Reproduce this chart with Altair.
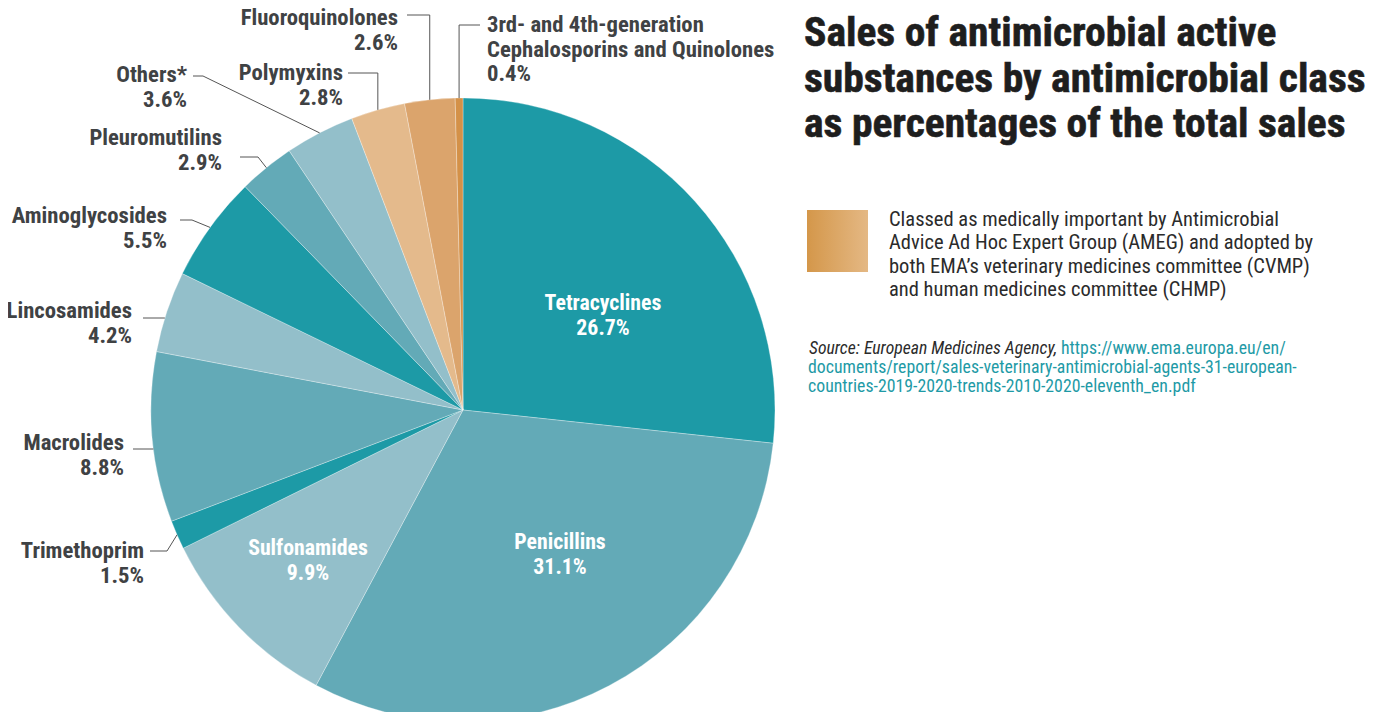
import altair as alt
import pandas as pd
import math

# ---------------- data ----------------
classes = ["Tetracyclines", "Penicillins", "Sulfonamides", "Trimethoprim", "Macrolides",
           "Lincosamides", "Aminoglycosides", "Pleuromutilins", "Others*", "Polymyxins",
           "Fluoroquinolones", "3rd- and 4th-generation Cephalosporins and Quinolones"]
shares = [26.7, 31.1, 9.9, 1.5, 8.8, 4.2, 5.5, 2.9, 3.6, 2.8, 2.6, 0.4]
pct_labels = ["26.7%", "31.1%", "9.9%", "1.5%", "8.8%", "4.2%", "5.5%", "2.9%", "3.6%", "2.8%", "2.6%", "0.4%"]
label_lines = [["Tetracyclines"], ["Penicillins"], ["Sulfonamides"], ["Trimethoprim"], ["Macrolides"],
               ["Lincosamides"], ["Aminoglycosides"], ["Pleuromutilins"], ["Others*"], ["Polymyxins"],
               ["Fluoroquinolones"], ["3rd- and 4th-generation", "Cephalosporins and Quinolones"]]
slice_colors = ["#1D9AA6", "#63AAB7", "#93BFCA", "#1D9AA6", "#63AAB7", "#93BFCA",
                "#1D9AA6", "#63AAB7", "#93BFCA", "#E4BA8C", "#DBA46C", "#D49148"]

title_lines = ["Sales of antimicrobial active", "substances by antimicrobial class",
               "as percentages of the total sales"]
legend_lines = ["Classed as medically important by Antimicrobial",
                "Advice Ad Hoc Expert Group (AMEG) and adopted by",
                "both EMA\u2019s veterinary medicines committee (CVMP)",
                "and human medicines committee (CHMP)"]
source_prefix = "Source: European Medicines Agency,"
source_link = ["https://www.ema.europa.eu/en/",
               "documents/report/sales-veterinary-antimicrobial-agents-31-european-",
               "countries-2019-2020-trends-2010-2020-eleventh_en.pdf"]

# ---------------- layout ----------------
W, H = 1378, 704
OFF = 8
CX, CY, R = 463 - OFF, 410 - OFF, 312
FONT = "Liberation Sans Narrow, Roboto Condensed, Arial Narrow, Roboto, sans-serif"

# label layout: align, x, first baseline (page coords), inside?, leader kind, leader start x, leader y, elbow x
label_layout = {
    "Tetracyclines":    ("center", 603, 310, True,  None, None, None, None),
    "Penicillins":      ("center", 560, 549, True,  None, None, None, None),
    "Sulfonamides":     ("center", 308, 555, True,  None, None, None, None),
    "Trimethoprim":     ("right", 144, 558, False, "d", 150, 551, 167),
    "Macrolides":       ("right", 124, 450, False, "h", 133, 449, None),
    "Lincosamides":     ("right", 132, 318, False, "h", 143, 318, None),
    "Aminoglycosides":  ("right", 167, 223, False, "d", 180, 220, 192),
    "Pleuromutilins":   ("right", 222, 145, False, "d", 240, 157, 258),
    "Others*":          ("right", 187, 82,  False, "d", 193, 76, 203),
    "Polymyxins":       ("right", 343, 80,  False, "v", 348, 73, None),
    "Fluoroquinolones": ("right", 398, 25,  False, "v", 407, 15, None),
    "3rd- and 4th-generation Cephalosporins and Quinolones":
                        ("left", 487, 32,  False, "v", 480, 25, None),
}
LINE_STEP = 24.5

# ---------------- tables ----------------
pie_df = pd.DataFrame({"cls": classes, "share": shares, "idx": list(range(len(classes)))})

text_rows = []
leader_rows = []
total = sum(shares)
cum = 0.0
for i, c in enumerate(classes):
    mid = (cum + shares[i] / 2) / total
    cum += shares[i]
    align, lx, ly, inside, kind, sx, sy, ex = label_layout[c]
    lines = label_lines[i] + [pct_labels[i]]
    for j, t in enumerate(lines):
        text_rows.append({"t": t, "x": lx - OFF, "y": ly - OFF + j * LINE_STEP, "align": align,
                          "inside": inside,
                          "col": "#FFFFFF" if inside else "#3F4244"})
    if kind is None:
        continue
    ang = 2 * math.pi * mid
    edge_x = CX + R * math.sin(ang)
    edge_y = CY - R * math.cos(ang)
    p0 = (sx - OFF, sy - OFF)
    if kind == "v":
        pts = [p0, (edge_x, sy - OFF), (edge_x, edge_y)]
    elif kind == "d":
        pts = [p0, (ex - OFF, sy - OFF), (edge_x, edge_y)]
    else:  # horizontal to rim on the left side
        yy = sy - OFF
        xx = CX - math.sqrt(R ** 2 - (yy - CY) ** 2)
        pts = [p0, (xx, yy)]
    for k, (px, py) in enumerate(pts):
        leader_rows.append({"cls": c, "o": k, "x": px, "y": py})

text_df = pd.DataFrame(text_rows)
leader_df = pd.DataFrame(leader_rows)

xs = alt.Scale(domain=[0, W], range=[0, W])
ys = alt.Scale(domain=[0, H], range=[0, H])

pie = alt.Chart(pie_df).mark_arc(outerRadius=R, stroke="#FFFFFF", strokeWidth=0.6,
                                  strokeOpacity=0.5).encode(
    theta=alt.Theta("share:Q", stack=True),
    order=alt.Order("idx:Q"),
    color=alt.Color("cls:N", scale=alt.Scale(domain=classes, range=slice_colors), legend=None),
    x=alt.value(CX), y=alt.value(CY),
)

leaders = alt.Chart(leader_df).mark_line(color="#555555", strokeWidth=1).encode(
    x=alt.X("x:Q", scale=xs, axis=None),
    y=alt.Y("y:Q", scale=ys, axis=None),
    detail="cls:N",
    order="o:Q",
)

layers = [pie, leaders]
for al in ["left", "right", "center"]:
    for ins, fs in [(False, 22.7), (True, 21.8)]:
        sub = text_df[(text_df["align"] == al) & (text_df["inside"] == ins)]
        if len(sub) == 0:
            continue
        layers.append(alt.Chart(sub).mark_text(align=al, baseline="alphabetic", font=FONT,
                                               fontSize=fs, fontWeight="bold").encode(
            x=alt.X("x:Q", scale=xs, axis=None),
            y=alt.Y("y:Q", scale=ys, axis=None),
            text="t:N",
            color=alt.Color("col:N", scale=None),
        ))

title_df = pd.DataFrame({"t": title_lines, "x": [804 - OFF] * 3,
                         "y": [46 - OFF, 92 - OFF, 137 - OFF]})
layers.append(alt.Chart(title_df).mark_text(align="left", baseline="alphabetic", font=FONT,
                                            fontSize=41.5, fontWeight="bold", color="#1E1E1E",
                                            stroke="#1E1E1E", strokeWidth=0.6).encode(
    x=alt.X("x:Q", scale=xs, axis=None), y=alt.Y("y:Q", scale=ys, axis=None), text="t:N"))

legend_df = pd.DataFrame({"t": legend_lines, "x": [889 - OFF] * 4,
                          "y": [226 - OFF + k * 23.4 for k in range(4)]})
layers.append(alt.Chart(legend_df).mark_text(align="left", baseline="alphabetic", font=FONT,
                                             fontSize=20.5, color="#2B2B2B").encode(
    x=alt.X("x:Q", scale=xs, axis=None), y=alt.Y("y:Q", scale=ys, axis=None), text="t:N"))

swatch_df = pd.DataFrame({"x": [807 - OFF], "x2": [868 - OFF], "y": [210 - OFF], "y2": [272 - OFF]})
grad = alt.Gradient(gradient="linear",
                    stops=[alt.GradientStop(color="#D4974A", offset=0),
                           alt.GradientStop(color="#E4B884", offset=1)],
                    x1=0, x2=1, y1=0, y2=0)
layers.append(alt.Chart(swatch_df).mark_rect(fill=grad).encode(
    x=alt.X("x:Q", scale=xs, axis=None), x2="x2:Q",
    y=alt.Y("y:Q", scale=ys, axis=None), y2="y2:Q"))

src_df = pd.DataFrame({"t": [source_prefix], "x": [809 - OFF], "y": [354 - OFF]})
layers.append(alt.Chart(src_df).mark_text(align="left", baseline="alphabetic", font=FONT,
                                          fontSize=17.7, fontStyle="italic", color="#2B2B2B").encode(
    x=alt.X("x:Q", scale=xs, axis=None), y=alt.Y("y:Q", scale=ys, axis=None), text="t:N"))

link_df = pd.DataFrame({"t": source_link, "x": [1061 - OFF, 808 - OFF, 808 - OFF],
                        "y": [354 - OFF, 373 - OFF, 392 - OFF]})
layers.append(alt.Chart(link_df).mark_text(align="left", baseline="alphabetic", font=FONT,
                                           fontSize=17.8, color="#1E9AA6").encode(
    x=alt.X("x:Q", scale=xs, axis=None), y=alt.Y("y:Q", scale=ys, axis=None), text="t:N"))

chart = alt.layer(*layers).properties(
    width=W, height=H, padding=0, background="#FFFFFF",
    autosize=alt.AutoSizeParams(type="none")
).configure_view(stroke=None, strokeWidth=0)

chart.save("out.html", embed_options={"renderer": "svg", "actions": False})
